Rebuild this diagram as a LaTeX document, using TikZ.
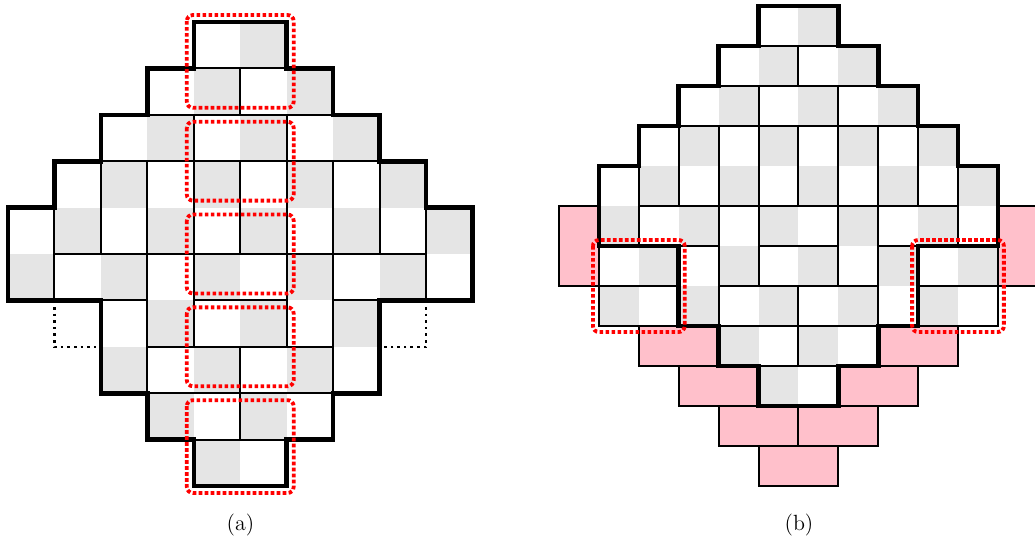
\documentclass[tikz,border=0pt]{standalone}
\definecolor{lg}{RGB}{229,229,229}
\definecolor{pk}{RGB}{255,192,203}
\tikzset{
  dom/.style={draw=black, line width=1pt},
  bnd/.style={draw=black, line width=2.3pt},
  redbox/.style={draw=red, line width=1.9pt, dash pattern=on 1.8pt off 1.2pt, rounded corners=3pt},
  blkdot/.style={draw=black, line width=1.3pt, dash pattern=on 1.3pt off 2pt},
  pinkdom/.style={fill=pk, draw=black, line width=1pt},
}
\begin{document}
\begin{tikzpicture}[x=0.5pt,y=-0.5pt]
\useasboundingbox (0,0) rectangle (1035,547);
\clip (0,0) rectangle (1035,547);
% ---------------- (a)
\begin{scope}[shift={(4pt,-11pt)}, x=23.225pt, y=-23.2pt]
  \foreach \r/\a/\b in {0/4/5,1/3/6,2/2/7,3/1/8,4/0/9,5/0/9,6/2/7,7/2/7,8/3/6,9/4/5}{
    \foreach \c in {\a,...,\b}{
      \pgfmathtruncatemacro\p{mod(\r+\c,2)}
      \ifnum\p=1 \fill[lg] (\c,\r) rectangle ++(1,1); \fi
    }
  }
  % horizontal dominoes
  \foreach \c/\r in {4/0,3/1,5/1,2/2,4/2,6/2,1/5,4/5,7/5,4/6,3/7,5/7,3/8,5/8,4/9}
    \draw[dom] (\c,\r) rectangle ++(2,1);
  % vertical dominoes
  \foreach \c/\r in {1/3,2/3,3/3,4/3,5/3,6/3,7/3,8/3,0/4,9/4,3/5,6/5,2/6,7/6}
    \draw[dom] (\c,\r) rectangle ++(1,2);
  % boundary
  \draw[bnd] (4,0) -- (6,0) -- (6,1) -- (7,1) -- (7,2) -- (8,2) -- (8,3) -- (9,3) -- (9,4) -- (10,4) -- (10,6) -- (8,6) -- (8,8) -- (7,8) -- (7,9) -- (6,9) -- (6,10) -- (4,10) -- (4,9) -- (3,9) -- (3,8) -- (2,8) -- (2,6) -- (0,6) -- (0,4) -- (1,4) -- (1,3) -- (2,3) -- (2,2) -- (3,2) -- (3,1) -- (4,1) -- cycle;
  % removed cells
  \draw[blkdot] (1,6) -- (1,7) -- (2,7);
  \draw[blkdot] (9,6) -- (9,7) -- (8,7);
  % red boxes
  \draw[redbox] (3.85,-0.15) rectangle (6.15,1.85);
  \draw[redbox] (3.85,2.15) rectangle (6.15,3.85);
  \draw[redbox] (3.85,4.15) rectangle (6.15,5.85);
  \draw[redbox] (3.85,6.15) rectangle (6.15,7.85);
  \draw[redbox] (3.85,8.15) rectangle (6.15,10.15);
\end{scope}
% ---------------- (b)
\begin{scope}[shift={(279.5pt,-3pt)}, x=19.95pt, y=-20pt]
  \foreach \r/\a/\b in {0/5/6,1/4/7,2/3/8,3/2/9,4/1/10,5/1/10,6/1/10,7/1/10,8/4/7,9/5/6}{
    \foreach \c in {\a,...,\b}{
      \pgfmathtruncatemacro\p{mod(\r+\c,2)}
      \ifnum\p=0 \fill[lg] (\c,\r) rectangle ++(1,1); \fi
    }
  }
  % pink dominoes
  \foreach \c/\r in {2/8,8/8,3/9,7/9,4/10,6/10,5/11}
    \draw[pinkdom] (\c,\r) rectangle ++(2,1);
  \foreach \c/\r in {0/5,11/5}
    \draw[pinkdom] (\c,\r) rectangle ++(1,2);
  % horizontal dominoes
  \foreach \c/\r in {5/0,4/1,6/1,3/2,5/2,7/2,2/5,5/5,8/5,5/6,4/7,6/7,4/8,6/8,5/9,1/6,1/7,9/6,9/7}
    \draw[dom] (\c,\r) rectangle ++(2,1);
  % vertical dominoes
  \foreach \c/\r in {2/3,3/3,4/3,5/3,6/3,7/3,8/3,9/3,1/4,10/4,4/5,7/5,3/6,8/6}
    \draw[dom] (\c,\r) rectangle ++(1,2);
  % boundary
  \draw[bnd] (5,0) -- (7,0) -- (7,1) -- (8,1) -- (8,2) -- (9,2) -- (9,3) -- (10,3) -- (10,4) -- (11,4) -- (11,6) -- (9,6) -- (9,8) -- (8,8) -- (8,9) -- (7,9) -- (7,10) -- (5,10) -- (5,9) -- (4,9) -- (4,8) -- (3,8) -- (3,6) -- (1,6) -- (1,4) -- (2,4) -- (2,3) -- (3,3) -- (3,2) -- (4,2) -- (4,1) -- (5,1) -- cycle;
  % red boxes
  \draw[redbox] (0.85,5.85) rectangle (3.15,8.15);
  \draw[redbox] (8.85,5.85) rectangle (11.15,8.15);
\end{scope}
\node (la) at (240.5,525) {\fontsize{11}{13}\selectfont (a)};
\node (lb) at (799,525) {\fontsize{11}{13}\selectfont (b)};
\end{tikzpicture}
\end{document}
